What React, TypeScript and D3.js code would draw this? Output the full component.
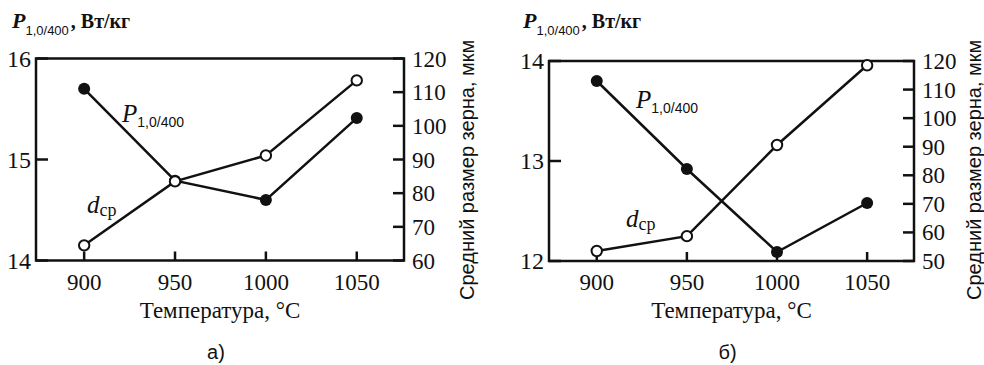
import React from "react";
import * as d3 from "d3";

// ---- data ----
const temperatures = [900, 950, 1000, 1050];
const xTickLabels = ["900", "950", "1000", "1050"];

// panel a)
const lossA = [15.7, 14.79, 14.6, 15.41];
const grainA = [64.5, 83.5, 91.2, 113.5];
const leftTicksA = [14, 15, 16];
const rightTicksA = [60, 70, 80, 90, 100, 110, 120];

// panel б)
const lossB = [13.8, 12.92, 12.09, 12.58];
const grainB = [53.5, 58.7, 90.6, 118.5];
const leftTicksB = [12, 13, 14];
const rightTicksB = [50, 60, 70, 80, 90, 100, 110, 120];

const xDomain: [number, number] = [873.5, 1076];
const SERIF = "Liberation Serif, DejaVu Serif, serif";
const SANS = "Liberation Sans, Arial, sans-serif";
const INK = "#111";

const serif = (size: number, extra: React.CSSProperties = {}): React.CSSProperties => ({
  fontFamily: SERIF, fontSize: size, ...extra,
});

type PanelProps = {
  x0: number; x1: number; y0: number; y1: number;
  loss: number[]; grain: number[];
  leftDomain: [number, number]; rightDomain: [number, number];
  leftTicks: number[]; rightTicks: number[];
  titleX: number; sub: string;
  pLabel: [number, number]; dLabel: [number, number];
  yLabelX: number;
};

function Panel(p: PanelProps) {
  const x = d3.scaleLinear().domain(xDomain).range([p.x0, p.x1]);
  const yl = d3.scaleLinear().domain(p.leftDomain).range([p.y1, p.y0]);
  const yr = d3.scaleLinear().domain(p.rightDomain).range([p.y1, p.y0]);
  const lineL = d3.line<number>().x((_, i) => x(temperatures[i])).y((v) => yl(v));
  const lineR = d3.line<number>().x((_, i) => x(temperatures[i])).y((v) => yr(v));
  const midX = (p.x0 + p.x1) / 2;
  return (
    <g>
      {/* title */}
      <text x={p.titleX} y={28} fill={INK} style={serif(20)}>
        <tspan style={serif(22, { fontStyle: "italic", fontWeight: "bold" })}>P</tspan>
        <tspan style={{ fontFamily: SANS, fontSize: 13 }} dy={7}>1,0/400</tspan>
        <tspan style={serif(20, { fontWeight: "bold" })} dy={-7} dx={2}>, Вт/кг</tspan>
      </text>

      {/* frame */}
      <rect x={p.x0} y={p.y0} width={p.x1 - p.x0} height={p.y1 - p.y0}
        fill="none" stroke={INK} strokeWidth={2.5} />

      {/* x ticks */}
      {temperatures.map((t, i) => (
        <g key={"xt" + t}>
          <line x1={x(t)} x2={x(t)} y1={p.y1} y2={p.y1 - 9} stroke={INK} strokeWidth={2.5} />
          <text x={x(t)} y={290} textAnchor="middle" style={serif(23)} fill={INK}>
            {xTickLabels[i]}
          </text>
        </g>
      ))}
      <text x={midX} y={318} textAnchor="middle" style={serif(23)} fill={INK}>
        Температура, °С
      </text>

      {/* left ticks */}
      {p.leftTicks.map((t) => (
        <g key={"lt" + t}>
          <line x1={p.x0} x2={p.x0 + 12} y1={yl(t)} y2={yl(t)} stroke={INK} strokeWidth={2.5} />
          <text x={p.x0 - 5} y={yl(t) + 8} textAnchor="end" style={serif(24)} fill={INK}>
            {t}
          </text>
        </g>
      ))}

      {/* right ticks */}
      {p.rightTicks.map((t) => (
        <g key={"rt" + t}>
          <line x1={p.x1} x2={p.x1 - 11} y1={yr(t)} y2={yr(t)} stroke={INK} strokeWidth={2.5} />
          <text x={p.x1 + 8} y={yr(t) + 8} textAnchor="start" style={serif(23)} fill={INK}>
            {t}
          </text>
        </g>
      ))}
      <text transform={`translate(${p.yLabelX},300) rotate(-90)`} textAnchor="start"
        style={{ fontFamily: SANS, fontSize: 20 }} fill={INK}>
        Средний размер зерна, мкм
      </text>

      {/* lines */}
      <path d={lineR(p.grain) || ""} fill="none" stroke={INK} strokeWidth={2.5} />
      <path d={lineL(p.loss) || ""} fill="none" stroke={INK} strokeWidth={2.5} />
      {p.loss.map((v, i) => (
        <circle key={"pl" + i} cx={x(temperatures[i])} cy={yl(v)} r={6} fill={INK} />
      ))}
      {p.grain.map((v, i) => (
        <circle key={"gr" + i} cx={x(temperatures[i])} cy={yr(v)} r={5.2} fill="#fff" stroke={INK} strokeWidth={2} />
      ))}

      {/* inline labels */}
      <text x={p.pLabel[0]} y={p.pLabel[1]} fill={INK} style={serif(25)}>
        <tspan style={serif(25, { fontStyle: "italic" })}>P</tspan>
        <tspan style={{ fontFamily: SANS, fontSize: 14 }} dy={5}>1,0/400</tspan>
      </text>
      <text x={p.dLabel[0]} y={p.dLabel[1]} fill={INK} style={serif(25)}>
        <tspan style={serif(25, { fontStyle: "italic" })}>d</tspan>
        <tspan style={serif(18)} dy={3}>ср</tspan>
      </text>

      <text x={midX - 4} y={359} textAnchor="middle" style={{ fontFamily: SANS, fontSize: 20 }} fill={INK}>
        {p.sub}
      </text>
    </g>
  );
}

export default function App() {
  return (
    <svg width={984} height={365} style={{ position: "absolute", left: 0, top: 0, background: "#fff" }}>
      <rect width={984} height={365} fill="#fff" />
      <Panel x0={36} x1={404} y0={58.5} y1={260.5}
        loss={lossA} grain={grainA}
        leftDomain={[14, 16]} rightDomain={[60, 120]}
        leftTicks={leftTicksA} rightTicks={rightTicksA}
        titleX={12} sub="а)"
        pLabel={[122, 122]} dLabel={[87, 213]} yLabelX={474} />
      <Panel x0={549} x1={914} y0={61} y1={261}
        loss={lossB} grain={grainB}
        leftDomain={[12, 14]} rightDomain={[50, 120]}
        leftTicks={leftTicksB} rightTicks={rightTicksB}
        titleX={523} sub="б)"
        pLabel={[636, 108]} dLabel={[626, 227]} yLabelX={981} />
    </svg>
  );
}
